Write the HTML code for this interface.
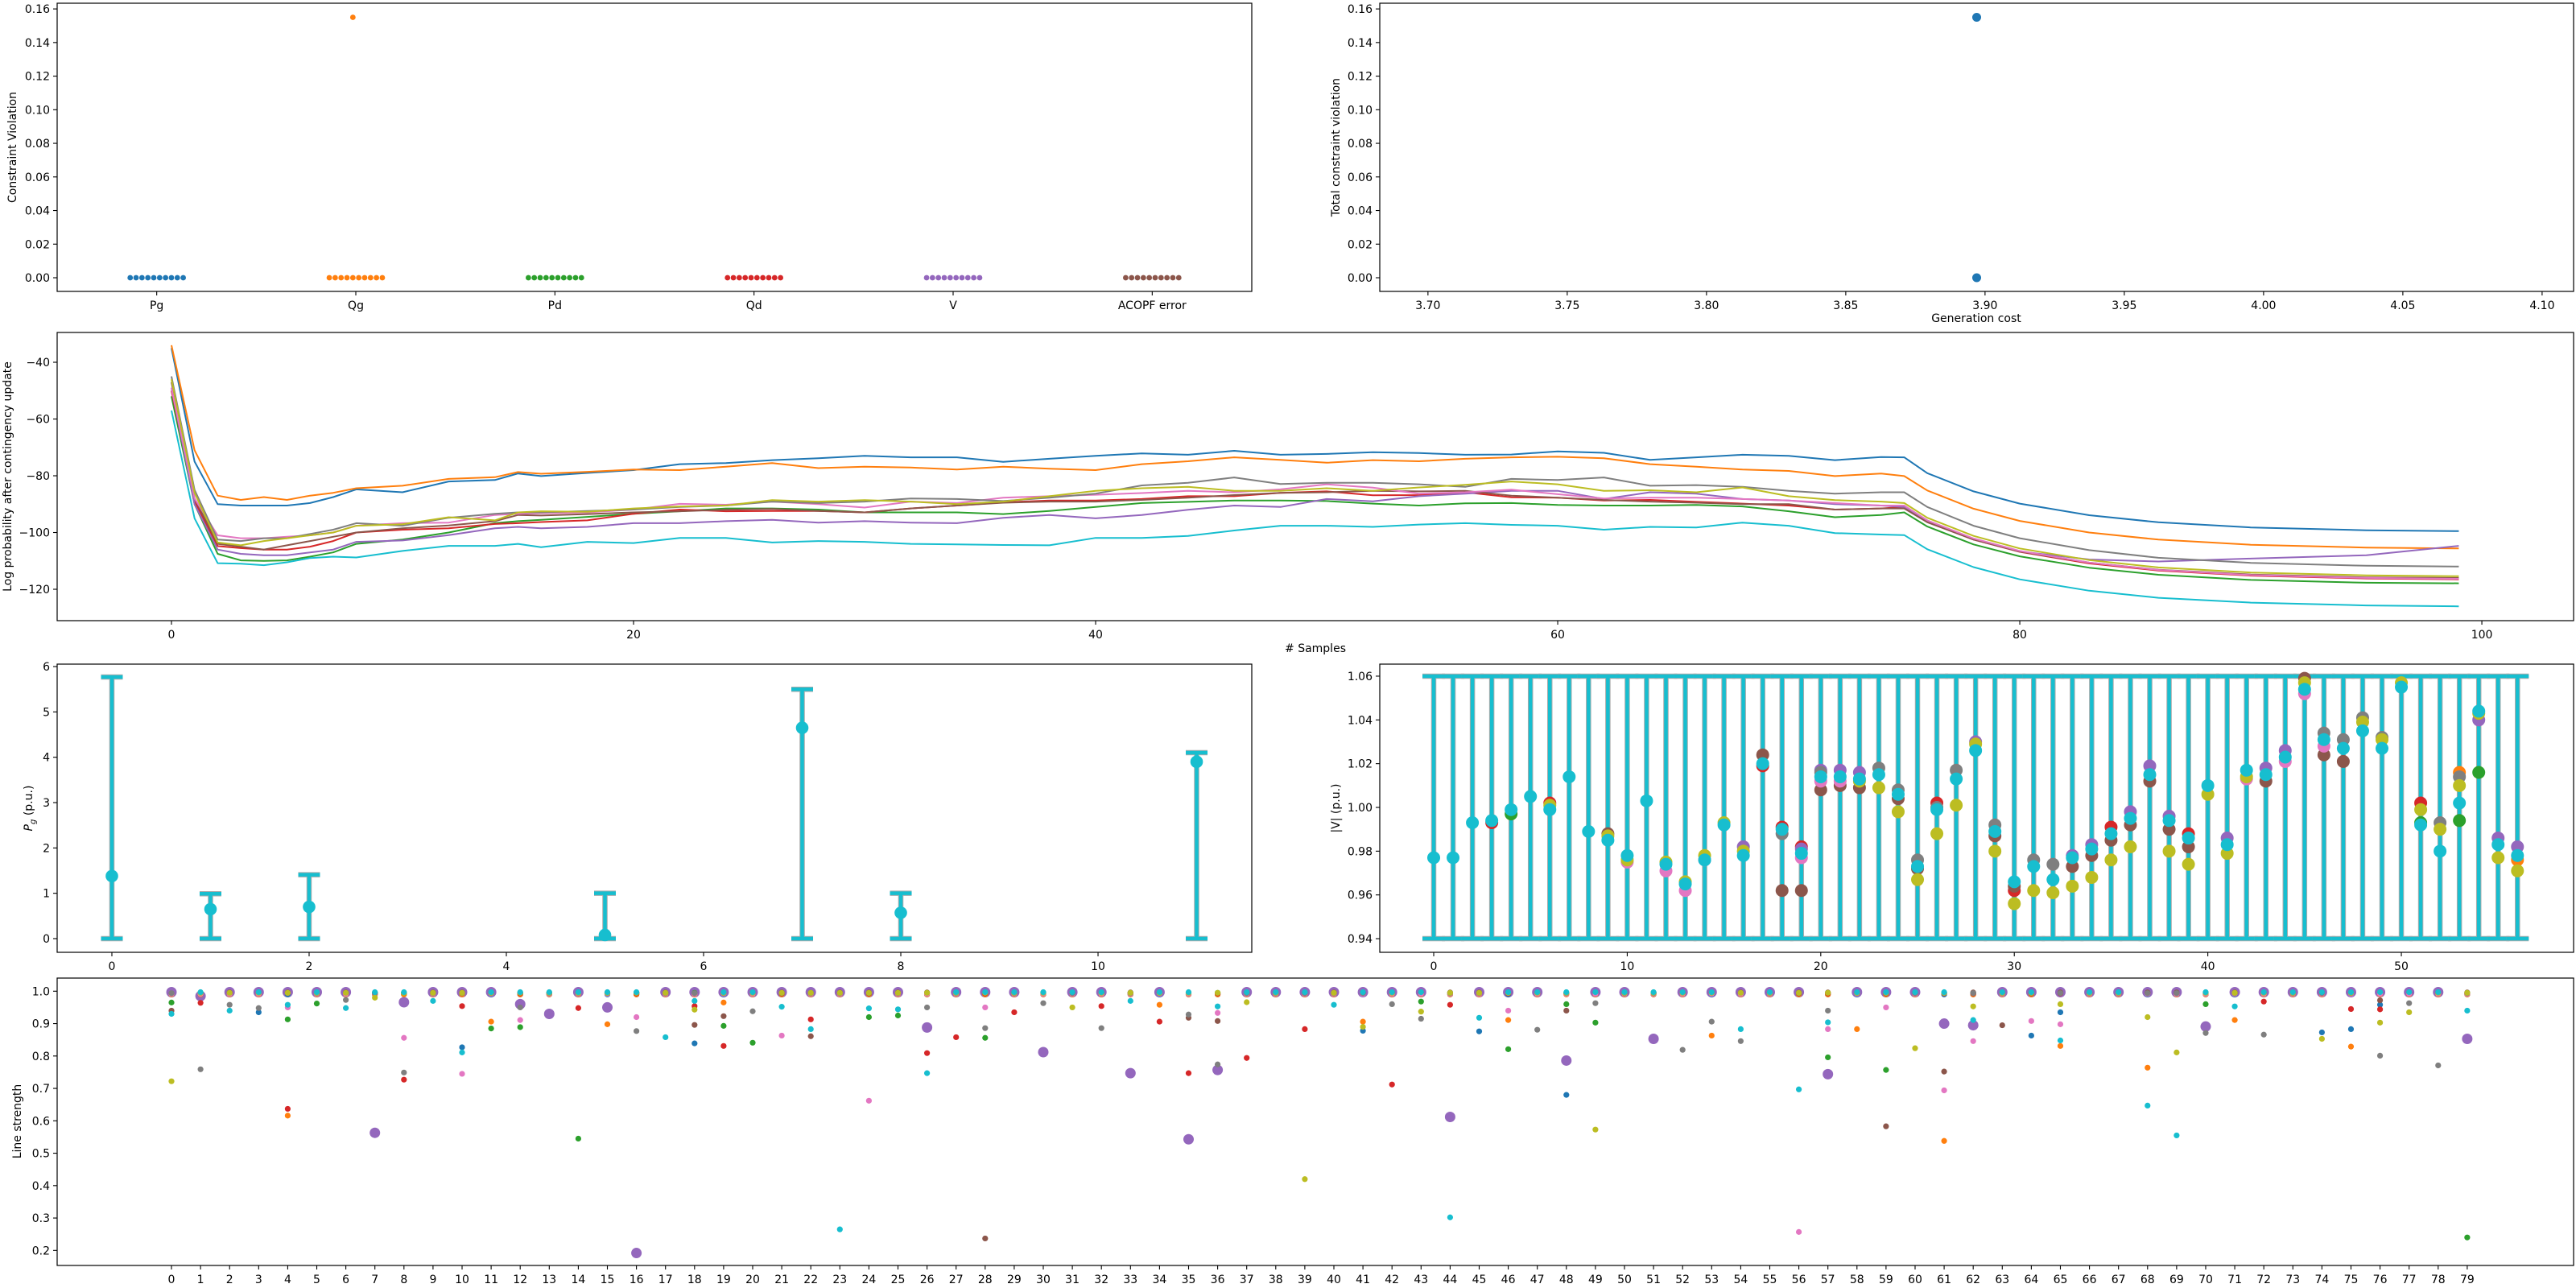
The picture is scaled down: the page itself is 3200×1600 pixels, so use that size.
<!DOCTYPE html>
<html><head><meta charset="utf-8"><title>OPF diagnostics</title>
<style>
html,body{margin:0;padding:0;background:#fff;}
svg{display:block;font-family:"DejaVu Sans","Liberation Sans",sans-serif;}
</style></head>
<body>
<svg id="fig" xmlns="http://www.w3.org/2000/svg" width="3200" height="1600" viewBox="0 0 3200 1600"></svg>
<script>
// ---------- Panel 1: constraint violation ----------
const p1Categories = ["Pg","Qg","Pd","Qd","V","ACOPF error"];
const p1Values = [
  [0,0,0,0,0,0,0,0,0,0],
  [0,0,0,0,0,0,0,0,0,0],
  [0,0,0,0,0,0,0,0,0,0],
  [0,0,0,0,0,0,0,0,0,0],
  [0,0,0,0,0,0,0,0,0,0],
  [0,0,0,0,0,0,0,0,0,0]
];
const p1Outliers = [[1, 4, 0.155]]; // [category, sample slot, value]
const p1YTicks = [0,0.02,0.04,0.06,0.08,0.10,0.12,0.14,0.16];
// ---------- Panel 2: cost vs violation ----------
const p2Cost = [3.897,3.897];
const p2Viol = [0.155,0.0];
const p2XTicks = [3.70,3.75,3.80,3.85,3.90,3.95,4.00,4.05,4.10];
// ---------- Panel 3: log probability ----------
const p3Samples = [0,1,2,3,4,5,6,7,8,10,12,14,15,16,18,20,22,24,26,28,30,32,34,36,38,40,42,44,46,48,50,52,54,56,58,60,62,64,66,68,70,72,74,75,76,78,80,83,86,90,95,99];
const p3Blue = [-35,-75,-90,-90.5,-90.5,-90.5,-89.6,-87.5,-84.8,-85.8,-82,-81.5,-79.2,-80.1,-79,-78,-75.9,-75.5,-74.5,-73.8,-73,-73.5,-73.5,-75.1,-74,-73,-72.1,-72.6,-71.2,-72.6,-72.3,-71.7,-72,-72.6,-72.5,-71.4,-71.9,-74.4,-73.5,-72.6,-73,-74.5,-73.4,-73.5,-79.1,-85.5,-89.8,-93.9,-96.4,-98.2,-99.2,-99.5];
const p3Orange = [-34,-71,-87,-88.5,-87.5,-88.5,-87,-86,-84.4,-83.5,-81.1,-80.5,-78.7,-79.3,-78.6,-77.8,-78,-76.8,-75.5,-77.3,-76.8,-77.1,-77.8,-76.8,-77.5,-78,-75.9,-74.9,-73.5,-74.4,-75.4,-74.5,-74.9,-74,-73.5,-73.3,-73.8,-75.9,-76.8,-77.8,-78.3,-80.1,-79.2,-80.1,-85.2,-91.6,-95.9,-100,-102.5,-104.3,-105.3,-105.6];
const p3Green = [-52,-90,-107.5,-109.8,-110,-109.8,-108.5,-107,-104,-102.5,-100,-96.7,-96,-95.5,-94.5,-93.4,-92.5,-91.5,-91.5,-91.9,-92.9,-92.9,-92.9,-93.5,-92.4,-91,-89.6,-89.2,-88.7,-88.7,-88.9,-89.8,-90.5,-89.7,-89.6,-90.3,-90.5,-90.5,-90.3,-90.8,-92.5,-94.6,-93.8,-92.9,-97.9,-104.2,-108.4,-112.4,-114.9,-116.7,-117.7,-117.9];
const p3Red = [-50,-89,-104.8,-105.5,-106,-106,-105,-103,-100,-99,-98.5,-97,-96.7,-96.3,-95.7,-93.4,-91.9,-92.5,-92.4,-92.4,-92.9,-91.5,-90.5,-89.4,-88.7,-88.7,-88.2,-87.2,-87.2,-86,-85.5,-86.9,-86.8,-85.8,-87.6,-87.7,-88.7,-88.5,-89.2,-89.8,-90.5,-91.9,-91.5,-91,-96.1,-102.5,-106.8,-110.9,-113.4,-115.2,-116.2,-116.5];
const p3Purple = [-49,-90,-106,-107.5,-108,-108,-107,-106,-103.3,-102.8,-100.9,-98.5,-98,-98.5,-98,-96.7,-96.7,-96,-95.5,-96.5,-96,-96.5,-96.7,-94.8,-93.8,-95,-93.8,-92,-90.5,-91,-88.2,-89,-87.2,-86.3,-85.3,-85.3,-88.2,-85.8,-86.3,-88.2,-88.7,-90,-90.5,-91,-96,-102.4,-106.7,-109.5,-110.2,-109.2,-108,-104.7];
const p3Brown = [-47,-88,-104,-105,-106,-104.5,-103,-101.5,-100,-98.5,-97.5,-96,-93.8,-94,-93.5,-92.9,-92.5,-92,-91.7,-92.4,-92.9,-91.5,-90.5,-89.5,-89.1,-89.1,-88.5,-87.7,-86.8,-86,-85.8,-85.3,-85.5,-85.3,-87,-87.7,-88.5,-89.1,-89.5,-90,-90,-91.9,-91.5,-91.5,-96.4,-102.5,-106.7,-110.6,-113.1,-114.8,-115.8,-116];
const p3Pink = [-49,-88,-101,-102,-102,-101.5,-101,-100,-97.6,-96.7,-96.5,-93.8,-93.4,-93.2,-92.9,-91.9,-89.9,-90.2,-89.1,-90,-91.2,-89.1,-89.6,-87.7,-87.2,-86.7,-86.1,-85.3,-85.8,-84.8,-83,-84.2,-86.3,-85.8,-84.9,-86.5,-88,-87.7,-87.7,-88.2,-88.7,-89.6,-90.5,-90.5,-95.7,-102.1,-106.5,-110.6,-113.2,-115,-116,-116.3];
const p3Gray = [-45,-85,-102.5,-103,-102,-102,-100.5,-99,-96.7,-97.6,-94.8,-93.4,-92.9,-92.9,-92.4,-91.9,-91,-90.5,-89.1,-89.6,-89.1,-88,-88.2,-88.9,-87.7,-86.3,-83.4,-82.5,-80.6,-82.9,-82.5,-82.5,-83,-83.9,-81.1,-81.5,-80.6,-83.5,-83.3,-83.9,-85.3,-86.3,-85.8,-85.8,-91,-97.6,-102,-106.2,-108.9,-110.7,-111.7,-112];
const p3Olive = [-46,-86,-103.5,-104.5,-103,-102,-101,-100,-97.6,-97.1,-94.6,-95.7,-92.9,-92.5,-92.7,-91.5,-90.8,-90.5,-88.6,-89.1,-88.6,-89.1,-90,-89.1,-87.2,-85.3,-84.4,-83.9,-85.3,-85.3,-84.4,-85.3,-84.1,-83.2,-82,-83,-85.3,-85.1,-85.8,-84.1,-87.2,-88.6,-89.1,-89.6,-94.8,-101.2,-105.6,-109.7,-112.3,-114.1,-115.1,-115.4];
const p3Cyan = [-57,-95,-110.8,-111,-111.5,-110.5,-109,-108.5,-108.8,-106.5,-104.7,-104.7,-104,-105.2,-103.3,-103.7,-101.9,-101.9,-103.5,-103,-103.3,-104,-104.2,-104.4,-104.5,-101.9,-101.9,-101.2,-99.3,-97.6,-97.6,-98,-97.2,-96.7,-97.3,-97.6,-99,-98,-98.2,-96.5,-97.6,-100.2,-100.7,-100.9,-105.9,-112.2,-116.5,-120.5,-123,-124.7,-125.7,-126];
const p3XTicks = [0,20,40,60,80,100];
const p3YTicks = [-40,-60,-80,-100,-120];
// ---------- Panel 4: generator Pg ----------
const p4Gens = [0,1,2,5,7,8,11];
const p4Pg = [1.38,0.65,0.70,0.08,4.65,0.57,3.90];
const p4Pmin = [0,0,0,0,0,0,0];
const p4Pmax = [5.77,0.99,1.41,1.0,5.5,1.0,4.1];
const p4XTicks = [0,2,4,6,8,10];
const p4YTicks = [0,1,2,3,4,5,6];
// ---------- Panel 5: bus voltages ----------
const p5Vmin = 0.94, p5Vmax = 1.06;
const p5Cyan = [0.977,0.977,0.993,0.994,0.999,1.005,0.999,1.014,0.989,0.985,0.978,1.003,0.974,0.965,0.976,0.992,0.978,1.020,0.990,0.979,1.014,1.014,1.013,1.015,1.006,0.973,0.999,1.013,1.026,0.989,0.966,0.973,0.967,0.977,0.981,0.988,0.995,1.015,0.994,0.986,1.010,0.983,1.017,1.015,1.023,1.054,1.031,1.027,1.035,1.027,1.055,0.992,0.980,1.002,1.044,0.983,0.978];
const p5Olive = [[6,1.001],[9,0.987],[10,0.976],[12,0.975],[13,0.966],[14,0.978],[15,0.993],[16,0.980],[22,1.012],[23,1.009],[24,0.998],[25,0.967],[26,0.988],[27,1.001],[28,1.029],[29,0.980],[30,0.956],[31,0.962],[32,0.961],[33,0.964],[34,0.968],[35,0.976],[36,0.982],[38,0.980],[39,0.974],[40,1.006],[41,0.979],[42,1.014],[45,1.057],[48,1.039],[49,1.031],[50,1.057],[51,0.999],[52,0.990],[53,1.010],[54,1.043],[55,0.977],[56,0.971]];
const p5Brown = [[9,0.988],[17,1.024],[18,0.962],[19,0.962],[20,1.008],[21,1.010],[22,1.009],[24,1.004],[25,0.972],[29,0.987],[30,0.964],[33,0.973],[34,0.978],[35,0.985],[36,0.992],[37,1.012],[38,0.990],[39,0.982],[43,1.012],[45,1.059],[46,1.024],[47,1.021]];
const p5Gray = [[18,0.988],[20,1.016],[23,1.018],[24,1.008],[25,0.976],[26,1.000],[27,1.017],[29,0.992],[31,0.976],[32,0.974],[46,1.034],[47,1.031],[48,1.041],[49,1.032],[52,0.993],[53,1.014]];
const p5Purple = [[16,0.982],[19,0.981],[20,1.017],[21,1.017],[22,1.016],[28,1.030],[33,0.978],[34,0.983],[36,0.998],[37,1.019],[38,0.996],[41,0.986],[43,1.018],[44,1.026],[54,1.040],[55,0.986],[56,0.982]];
const p5Pink = [[10,0.975],[12,0.971],[13,0.962],[14,0.976],[19,0.977],[20,1.012],[21,1.012],[42,1.013],[44,1.021],[45,1.052],[46,1.028]];
const p5Red = [[3,0.993],[6,1.002],[17,1.019],[18,0.991],[19,0.982],[26,1.002],[30,0.962],[35,0.991],[39,0.988],[51,1.002]];
const p5Green = [[4,0.997],[51,0.993],[53,0.994],[54,1.016]];
const p5Orange = [[53,1.016],[56,0.976]];
const p5XTicks = [0,10,20,30,40,50];
const p5YTicks = [0.94,0.96,0.98,1.00,1.02,1.04,1.06];
// ---------- Panel 6: line strength ----------
const p6Lines = 80;
const p6TopDefault = [0.99,0.99,0.995,0.993,0.997,0.996,0.992,0.994,0.995,0.997];
const p6Blue = [[10,0.827],[18,0.839],[3,0.935],[41,0.878],[45,0.876],[48,0.680],[64,0.863],[74,0.873],[75,0.883],[65,0.935],[76,0.958]];
const p6Orange = [[4,0.616],[11,0.906],[15,0.898],[19,0.965],[34,0.958],[41,0.906],[46,0.911],[53,0.863],[58,0.883],[61,0.538],[65,0.831],[68,0.764],[71,0.911],[75,0.829]];
const p6Green = [[0,0.965],[4,0.913],[5,0.962],[11,0.885],[12,0.889],[14,0.545],[19,0.893],[20,0.841],[24,0.92],[25,0.925],[28,0.856],[43,0.968],[46,0.821],[48,0.96],[49,0.903],[57,0.796],[59,0.757],[70,0.96],[79,0.24]];
const p6Red = [[1,0.964],[4,0.637],[8,0.727],[10,0.954],[14,0.948],[18,0.954],[19,0.831],[22,0.913],[26,0.809],[27,0.858],[29,0.935],[32,0.954],[34,0.906],[35,0.747],[37,0.794],[39,0.883],[42,0.712],[44,0.958],[72,0.968],[75,0.945],[76,0.944]];
const p6Purple = [[1,0.985],[7,0.563],[8,0.966],[12,0.96],[13,0.93],[15,0.95],[16,0.192],[26,0.888],[30,0.812],[33,0.747],[35,0.543],[36,0.757],[44,0.612],[48,0.786],[51,0.853],[57,0.744],[61,0.9],[62,0.895],[70,0.891],[79,0.853]];
const p6Brown = [[0,0.94],[18,0.896],[19,0.923],[22,0.861],[28,0.237],[35,0.918],[36,0.908],[48,0.94],[59,0.583],[61,0.752],[63,0.895],[76,0.972]];
const p6Pink = [[8,0.856],[10,0.745],[12,0.911],[16,0.92],[21,0.863],[24,0.662],[28,0.95],[36,0.933],[46,0.94],[56,0.257],[57,0.883],[59,0.95],[61,0.694],[62,0.846],[64,0.908],[65,0.898],[4,0.95]];
const p6Gray = [[1,0.759],[2,0.958],[3,0.948],[6,0.973],[8,0.749],[12,0.95],[16,0.877],[20,0.938],[26,0.95],[28,0.886],[30,0.963],[32,0.886],[35,0.928],[36,0.774],[42,0.96],[43,0.915],[47,0.881],[49,0.963],[52,0.819],[53,0.906],[54,0.846],[57,0.94],[70,0.871],[72,0.866],[76,0.801],[77,0.963],[78,0.771]];
const p6Olive = [[0,0.722],[7,0.98],[18,0.943],[31,0.95],[37,0.966],[39,0.42],[41,0.89],[43,0.937],[49,0.573],[60,0.824],[62,0.953],[65,0.96],[68,0.92],[69,0.811],[74,0.853],[76,0.903],[77,0.935]];
const p6Cyan = [[0,0.93],[2,0.94],[4,0.958],[6,0.948],[9,0.97],[10,0.811],[17,0.858],[18,0.97],[21,0.952],[22,0.883],[23,0.265],[24,0.947],[25,0.944],[26,0.747],[33,0.97],[36,0.953],[40,0.958],[44,0.302],[45,0.918],[54,0.883],[56,0.697],[57,0.904],[62,0.911],[65,0.848],[68,0.647],[69,0.555],[71,0.953],[79,0.94]];
const p6YTicks = [0.2,0.3,0.4,0.5,0.6,0.7,0.8,0.9,1.0];

const C = ["#1f77b4","#ff7f0e","#2ca02c","#d62728","#9467bd","#8c564b","#e377c2","#7f7f7f","#bcbd22","#17becf"];
const NS = "http://www.w3.org/2000/svg";
const fig = document.getElementById("fig");

function mk(tag, attrs, parent) {
  const e = document.createElementNS(NS, tag);
  for (const k in attrs) e.setAttribute(k, attrs[k]);
  (parent || fig).appendChild(e);
  return e;
}
function axes(name, px0, px1, py0, py1, xd, yd) {
  const g = mk("g", {});
  
  
  const sx = v => px0 + (v - xd[0]) / (xd[1] - xd[0]) * (px1 - px0);
  const sy = v => py1 - (v - yd[0]) / (yd[1] - yd[0]) * (py1 - py0);
  return {g, sx, sy, px0, px1, py0, py1};
}
function frame(ax) {
  const r = mk("rect", {x: ax.px0, y: ax.py0, width: ax.px1 - ax.px0, height: ax.py1 - ax.py0, fill: "none", stroke: "#000", "stroke-width": 1.2}, ax.g);
  
  
}
function xTicks(ax, vals, labels) {
  vals.forEach((v, i) => {
    const x = ax.sx(v);
    mk("line", {x1: x, x2: x, y1: ax.py1, y2: ax.py1 + 5, stroke: "#000", "stroke-width": 1.1}, ax.g);
    const t = mk("text", {x: x, y: ax.py1 + 22, "text-anchor": "middle", "font-size": 14, fill: "#000"}, ax.g);
    
    
    t.textContent = labels[i];
  });
}
function yTicks(ax, vals, labels) {
  vals.forEach((v, i) => {
    const y = ax.sy(v);
    mk("line", {x1: ax.px0 - 5, x2: ax.px0, y1: y, y2: y, stroke: "#000", "stroke-width": 1.1}, ax.g);
    const t = mk("text", {x: ax.px0 - 9, y: y + 5, "text-anchor": "end", "font-size": 14, fill: "#000"}, ax.g);
    
    
    t.textContent = labels[i];
  });
}
function label(txt, x, y, rot, name, parent) {
  const t = mk("text", {x: x, y: y, "text-anchor": "middle", "font-size": 14, fill: "#000"}, parent);
  if (rot) t.setAttribute("transform", "rotate(-90 " + x + " " + y + ")");
  
  
  t.textContent = txt;
  return t;
}
function dot(ax, x, y, r, color, parent) {
  const c = mk("circle", {cx: ax.sx(x), cy: ax.sy(y), r: r, fill: color}, parent || ax.g);
  
  
  return c;
}

// ===== Panel 1 =====
const a1 = axes("constraint-violation-panel", 71, 1555, 4, 362, [-0.5, 5.5], [-0.00814, 0.1634]);
p1Categories.forEach((cat, c) => {
  p1Values[c].forEach((v, j) => dot(a1, c + (j - 4.5) * 0.0296, v, 3.4, C[c]));
});
p1Outliers.forEach(([c, j, v]) => dot(a1, c + (j - 4.5) * 0.0296, v, 3.4, C[c]));
frame(a1);
xTicks(a1, p1Categories.map((_, i) => i), p1Categories);
yTicks(a1, p1YTicks, p1YTicks.map(v => v.toFixed(2)));
label("Constraint Violation", 20, 183, true, "y-axis-title", a1.g);

// ===== Panel 2 =====
const a2 = axes("cost-vs-violation-panel", 1714, 3197, 4, 362, [3.6827, 4.1113], [-0.00814, 0.1634]);
p2Cost.forEach((c, i) => dot(a2, c, p2Viol[i], 5.5, C[0]));
frame(a2);
xTicks(a2, p2XTicks, p2XTicks.map(v => v.toFixed(2)));
yTicks(a2, p1YTicks, p1YTicks.map(v => v.toFixed(2)));
label("Total constraint violation", 1664, 183, true, "y-axis-title", a2.g);
label("Generation cost", 2455, 400, false, "x-axis-title", a2.g);

// ===== Panel 3 =====
const a3 = axes("log-probability-panel", 71, 3197, 413, 771, [-4.948, 103.97], [-131.06, -29.5]);
const p3Series = [p3Blue, p3Orange, p3Green, p3Red, p3Purple, p3Brown, p3Pink, p3Gray, p3Olive, p3Cyan];
p3Series.forEach((s, k) => {
  const n = Math.min(s.length, p3Samples.length);
  let d = "";
  for (let i = 0; i < n; i++) d += (i ? "L" : "M") + a3.sx(p3Samples[i]).toFixed(1) + "," + a3.sy(s[i]).toFixed(1);
  const p = mk("path", {d: d, fill: "none", stroke: C[k], "stroke-width": 2, "stroke-linejoin": "round"}, a3.g);
  
  
});
frame(a3);
xTicks(a3, p3XTicks, p3XTicks.map(String));
yTicks(a3, p3YTicks, p3YTicks.map(v => "\u2212" + Math.abs(v)));
label("Log probability after contingency update", 14, 592, true, "y-axis-title", a3.g);
label("# Samples", 1634, 810, false, "x-axis-title", a3.g);

// ===== Panel 4 =====
const a4 = axes("generator-output-panel", 71, 1555, 825, 1183, [-0.555, 11.559], [-0.302, 6.054]);
function errBar(ax, x, lo, hi, cap) {
  const X = ax.sx(x), Y0 = ax.sy(lo), Y1 = ax.sy(hi);
  const g = mk("g", {}, ax.g);
  
  
  mk("line", {x1: X, x2: X, y1: Y0, y2: Y1, stroke: "#aaa", "stroke-width": 6.5}, g);
  mk("line", {x1: X - cap, x2: X + cap, y1: Y0, y2: Y0, stroke: "#aaa", "stroke-width": 6.5}, g);
  mk("line", {x1: X - cap, x2: X + cap, y1: Y1, y2: Y1, stroke: "#aaa", "stroke-width": 6.5}, g);
  mk("line", {x1: X, x2: X, y1: Y0, y2: Y1, stroke: C[9], "stroke-width": 4.5}, g);
  mk("line", {x1: X - cap, x2: X + cap, y1: Y0, y2: Y0, stroke: C[9], "stroke-width": 4.5}, g);
  mk("line", {x1: X - cap, x2: X + cap, y1: Y1, y2: Y1, stroke: C[9], "stroke-width": 4.5}, g);
}
p4Gens.forEach((gi, i) => {
  errBar(a4, gi, p4Pmin[i], p4Pmax[i], 13.5);
  dot(a4, gi, p4Pg[i], 7.8, C[9]);
});
frame(a4);
xTicks(a4, p4XTicks, p4XTicks.map(String));
yTicks(a4, p4YTicks, p4YTicks.map(String));
(function(){
  const t = mk("text", {x: 40, y: 1004, "text-anchor": "middle", "font-size": 14, fill: "#000", transform: "rotate(-90 40 1004)"}, a4.g);
  
  
  t.innerHTML = '<tspan font-style="italic">P</tspan><tspan font-style="italic" font-size="10" dy="4">g</tspan><tspan dy="-4"> (p.u.)</tspan>';
})();

// ===== Panel 5 =====
const a5 = axes("bus-voltage-panel", 1714, 3197, 825, 1183, [-2.787, 58.9], [0.93376, 1.0655]);
p5Cyan.forEach((v, b) => errBar(a5, b, p5Vmin, p5Vmax, 14));
const p5Sparse = [[1, p5Orange], [2, p5Green], [3, p5Red], [4, p5Purple], [5, p5Brown], [6, p5Pink], [7, p5Gray], [8, p5Olive]];
p5Sparse.forEach(([k, arr]) => arr.forEach(([b, v]) => dot(a5, b, v, 8, C[k])));
p5Cyan.forEach((v, b) => dot(a5, b, v, 8, C[9]));
frame(a5);
xTicks(a5, p5XTicks, p5XTicks.map(String));
yTicks(a5, p5YTicks, p5YTicks.map(v => v.toFixed(2)));
label("|V| (p.u.)", 1664, 1004, true, "y-axis-title", a5.g);

// ===== Panel 6 =====
const a6 = axes("line-strength-panel", 71, 3197, 1215, 1572, [-3.934, 82.66], [0.1536, 1.0405]);
const p6Series = [p6Blue, p6Orange, p6Green, p6Red, p6Purple, p6Brown, p6Pink, p6Gray, p6Olive, p6Cyan];
const order = [4, 0, 1, 2, 3, 5, 6, 7, 8, 9];
order.forEach(k => {
  const s = p6Series[k];
  const r = k === 4 ? 6.5 : 3.6;
  const has = new Set(s.map(p => p[0]));
  for (let i = 0; i < p6Lines; i++) if (!has.has(i)) dot(a6, i, p6TopDefault[k], r, C[k]);
  s.forEach(([i, v]) => dot(a6, i, v, r, C[k]));
});
frame(a6);
const p6XT = []; for (let i = 0; i < p6Lines; i++) p6XT.push(i);
xTicks(a6, p6XT, p6XT.map(String));
yTicks(a6, p6YTicks, p6YTicks.map(v => v.toFixed(1)));
label("Line strength", 26, 1393, true, "y-axis-title", a6.g);
</script>
</body></html>
